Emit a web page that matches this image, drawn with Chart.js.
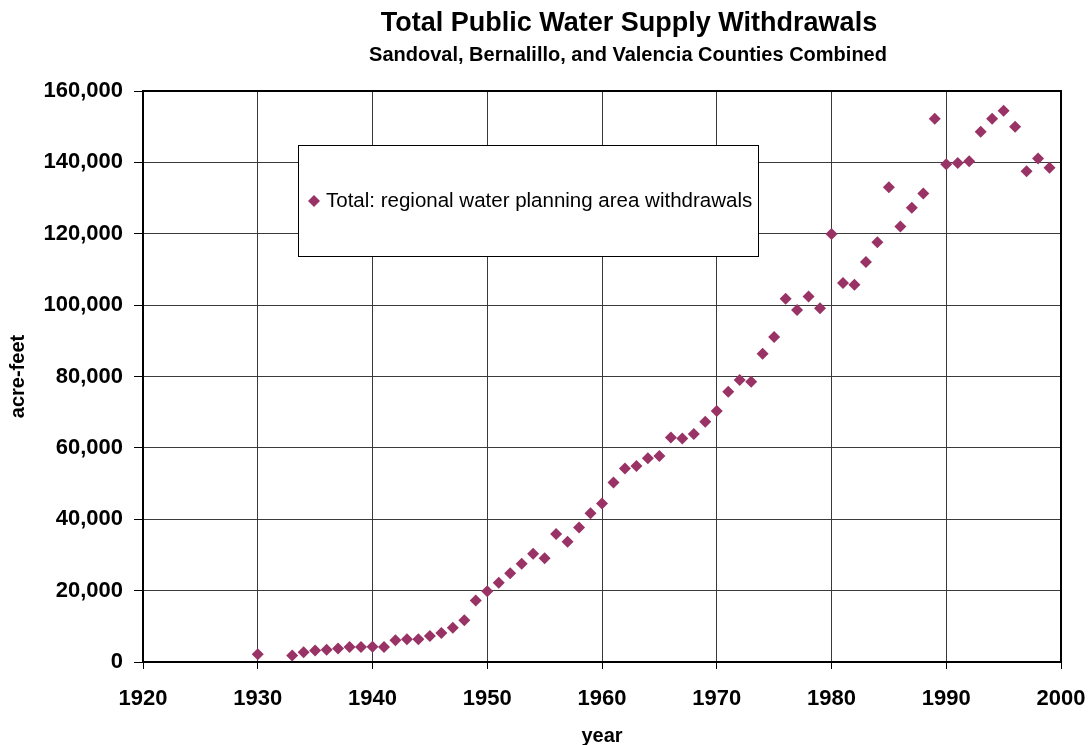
<!DOCTYPE html>
<html><head><meta charset="utf-8">
<script src="https://cdn.jsdelivr.net/npm/chart.js@4"></script>
<style>html,body{margin:0;padding:0;background:#fff;} canvas{display:block}</style>
</head><body>
<canvas id="c" width="1090" height="745"></canvas>
<script>
const chartTitle = 'Total Public Water Supply Withdrawals';
const chartSubtitle = 'Sandoval, Bernalillo, and Valencia Counties Combined';
const seriesLabel = 'Total: regional water planning area withdrawals';
const years = [1930,1933,1934,1935,1936,1937,1938,1939,1940,1941,1942,1943,1944,1945,1946,1947,1948,1949,
  1950,1951,1952,1953,1954,1955,1956,1957,1958,1959,1960,1961,1962,1963,1964,1965,1966,1967,1968,1969,
  1970,1971,1972,1973,1974,1975,1976,1977,1978,1979,1980,1981,1982,1983,1984,1985,1986,1987,1988,1989,
  1990,1991,1992,1993,1994,1995,1996,1997,1998,1999];
const withdrawals = [2200,1800,2700,3200,3400,3800,4200,4200,4300,4200,6100,6400,6400,7300,8100,9600,11700,17200,
  19800,22200,24900,27500,30300,29100,35900,33700,37700,41700,44400,50300,54200,54900,57100,57700,62900,62600,63900,67300,
  70300,75700,79000,78500,86400,91100,101800,98600,102400,99100,119900,106200,105700,112100,117600,133000,122000,127300,131300,152200,
  139500,139800,140300,148600,152200,154500,150000,137500,141100,138500];
const xTicks = [1920,1930,1940,1950,1960,1970,1980,1990,2000];
const yTicks = [0,20000,40000,60000,80000,100000,120000,140000,160000];

const FONT = 'Liberation Sans, Arial, Helvetica, sans-serif';
Chart.defaults.font.family = FONT;
Chart.defaults.color = '#000';
const markerColor = '#993366';

const points = years.map((y, i) => ({x: y, y: withdrawals[i]}));

const titles = {
  id: 'titles',
  afterDraw(chart) {
    const ctx = chart.ctx;
    ctx.save();
    ctx.fillStyle = '#000';
    ctx.textAlign = 'center';
    ctx.textBaseline = 'middle';
    ctx.font = 'bold 27px ' + FONT;
    ctx.fillText(chartTitle, 629, 24);
    ctx.font = 'bold 20px ' + FONT;
    ctx.fillText(chartSubtitle, 628, 55);
    ctx.restore();
  }
};

const plotBorder = {
  id: 'plotBorder',
  beforeDatasetsDraw(chart) {
    const {ctx, chartArea: a} = chart;
    ctx.save();
    ctx.strokeStyle = '#000';
    ctx.lineWidth = 2;
    ctx.strokeRect(a.left, a.top, a.right - a.left, a.bottom - a.top);
    ctx.restore();
  }
};

const legendBox = {
  id: 'legendBox',
  afterDatasetsDraw(chart) {
    const {ctx, chartArea: a} = chart;
    const bx = a.left + 155, by = a.top + 54, bw = 460, bh = 111;
    ctx.save();
    ctx.fillStyle = '#fff';
    ctx.fillRect(bx, by, bw, bh);
    ctx.strokeStyle = '#000';
    ctx.lineWidth = 1;
    ctx.strokeRect(bx + 0.5, by + 0.5, bw, bh);
    const mx = bx + 16, my = by + 56, r = 6;
    ctx.fillStyle = markerColor;
    ctx.beginPath();
    ctx.moveTo(mx, my - r); ctx.lineTo(mx + r, my); ctx.lineTo(mx, my + r); ctx.lineTo(mx - r, my);
    ctx.closePath(); ctx.fill();
    ctx.fillStyle = '#000';
    ctx.font = '20.5px ' + FONT;
    ctx.textBaseline = 'middle';
    ctx.textAlign = 'left';
    ctx.fillText(chart.data.datasets[0].label, bx + 28, my);
    ctx.restore();
  }
};

new Chart(document.getElementById('c'), {
  type: 'scatter',
  data: {
    datasets: [{
      label: seriesLabel,
      data: points,
      showLine: false,
      pointStyle: 'rectRot',
      pointRadius: 6,
      pointHoverRadius: 6,
      pointBackgroundColor: markerColor,
      pointBorderWidth: 0,
      borderColor: markerColor,
      backgroundColor: markerColor
    }]
  },
  options: {
    responsive: false,
    animation: false,
    devicePixelRatio: 1,
    layout: {padding: {left: 0, right: 29, top: 91, bottom: 0}},
    plugins: {
      legend: {display: false},
      tooltip: {enabled: false},
      title: {display: false},
      subtitle: {display: false}
    },
    scales: {
      x: {
        type: 'linear', min: 1920, max: 2000,
        afterBuildTicks: s => { s.ticks = xTicks.map(v => ({value: v})); },
        afterFit: s => { s.height = 83; s.paddingLeft = 0; s.paddingRight = 0; },
        grid: {color: '#3a3a3a', lineWidth: 1, tickLength: 7, tickColor: '#000'},
        border: {color: '#000', width: 2},
        ticks: {font: {size: 22, weight: 'bold'}, color: '#000', padding: 17, maxRotation: 0, autoSkip: false,
          callback: v => String(v)},
        title: {display: true, text: 'year', color: '#000', font: {size: 20, weight: 'bold'}, padding: {top: 0, bottom: -3}}
      },
      y: {
        type: 'linear', min: 0, max: 160000,
        afterBuildTicks: s => { s.ticks = yTicks.map(v => ({value: v})); },
        afterFit: s => { s.width = 143; s.paddingTop = 0; s.paddingBottom = 0; },
        grid: {color: '#3a3a3a', lineWidth: 1, tickLength: 9, tickColor: '#000'},
        border: {color: '#000', width: 2},
        ticks: {font: {size: 22, weight: 'bold'}, color: '#000', padding: 11, autoSkip: false,
          callback: v => v.toLocaleString('en-US')},
        title: {display: true, text: 'acre-feet', color: '#000', font: {size: 20, weight: 'bold'}, padding: {top: 6, bottom: 0}}
      }
    }
  },
  plugins: [plotBorder, legendBox, titles]
});
</script>
</body></html>
